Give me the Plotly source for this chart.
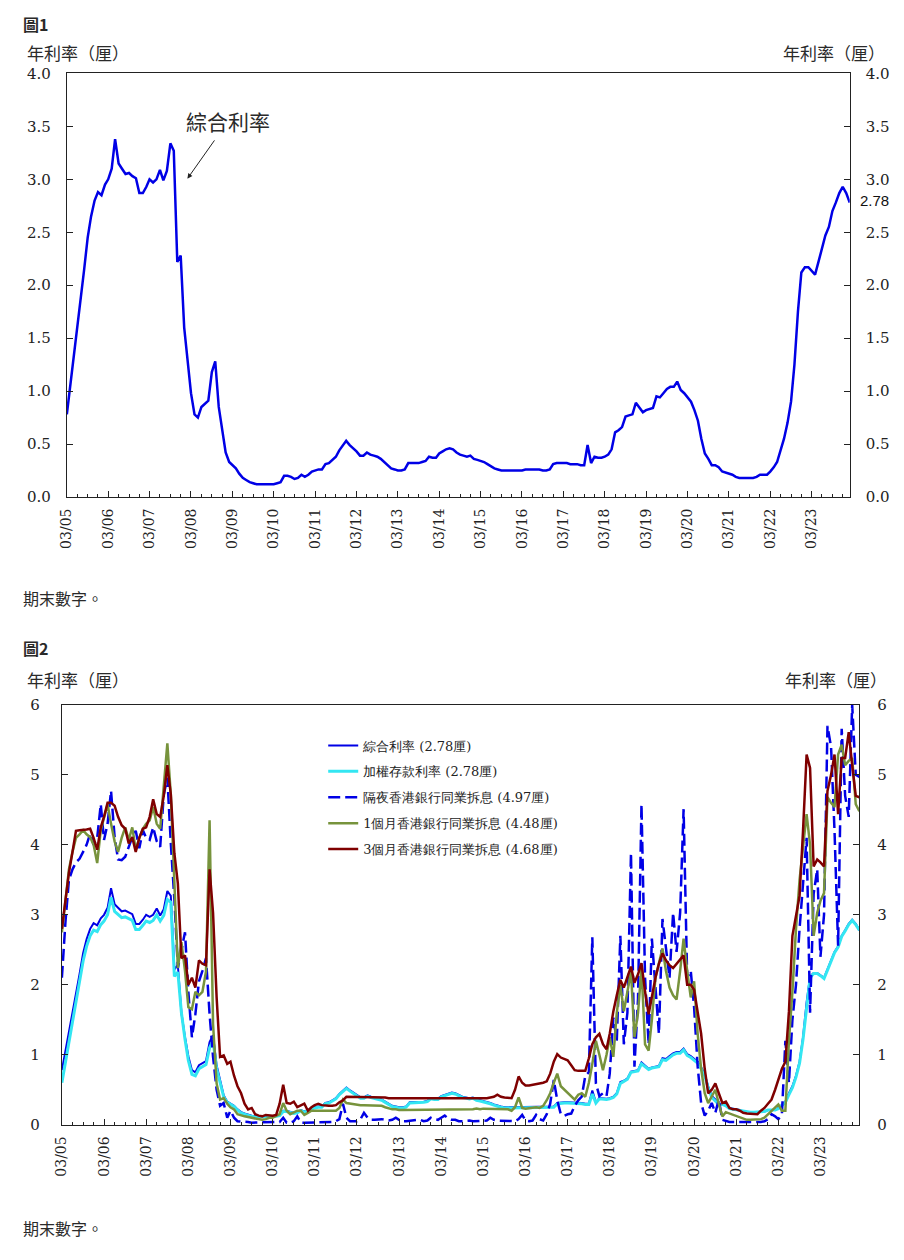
import plotly.graph_objects as go
import pandas as pd

# the page keeps the browser's 8px body margin, so the figure is 888x1244
PAGE_MARGIN = 8
W, H = 904 - 2 * PAGE_MARGIN, 1260 - 2 * PAGE_MARGIN

# monthly, Mar 2005 .. Feb 2024 (end of period)
months = pd.date_range("2005-03-01", periods=228, freq="MS")

composite = [
    0.78, 1.05, 1.32, 1.60, 1.88, 2.15, 2.45, 2.65, 2.80, 2.88, 2.85, 2.95,
    3.00, 3.10, 3.38, 3.15, 3.10, 3.05, 3.06, 3.03, 3.01, 2.87, 2.87, 2.93,
    3.00, 2.97, 3.00, 3.09, 2.99, 3.08, 3.34, 3.27, 2.22, 2.28, 1.60, 1.25,
    0.98, 0.78, 0.75, 0.85, 0.88, 0.91, 1.18, 1.28, 0.85, 0.65, 0.42, 0.33,
    0.30, 0.27, 0.22, 0.18, 0.16, 0.14, 0.13, 0.12, 0.12, 0.12, 0.12, 0.12,
    0.12, 0.13, 0.14, 0.20, 0.20, 0.19, 0.17, 0.18, 0.21, 0.19, 0.21, 0.24,
    0.25, 0.26, 0.26, 0.31, 0.32, 0.35, 0.38, 0.44, 0.49, 0.53, 0.49, 0.46,
    0.43, 0.39, 0.39, 0.42, 0.40, 0.39, 0.38, 0.36, 0.33, 0.30, 0.27, 0.26,
    0.25, 0.25, 0.26, 0.32, 0.32, 0.32, 0.32, 0.33, 0.34, 0.38, 0.37, 0.37,
    0.41, 0.43, 0.45, 0.46, 0.45, 0.42, 0.40, 0.39, 0.38, 0.39, 0.36, 0.35,
    0.34, 0.33, 0.31, 0.29, 0.27, 0.26, 0.25, 0.25, 0.25, 0.25, 0.25, 0.25,
    0.25, 0.26, 0.26, 0.26, 0.26, 0.26, 0.25, 0.25, 0.26, 0.31, 0.32, 0.32,
    0.32, 0.32, 0.31, 0.31, 0.31, 0.30, 0.30, 0.49, 0.32, 0.38, 0.37, 0.37,
    0.38, 0.40, 0.45, 0.61, 0.63, 0.66, 0.76, 0.77, 0.78, 0.89, 0.84, 0.80,
    0.82, 0.83, 0.84, 0.95, 0.94, 0.98, 1.02, 1.04, 1.04, 1.09, 1.01, 0.98,
    0.94, 0.90, 0.82, 0.72, 0.55, 0.41, 0.36, 0.30, 0.30, 0.28, 0.24, 0.23,
    0.22, 0.21, 0.19, 0.18, 0.18, 0.18, 0.18, 0.18, 0.19, 0.21, 0.21, 0.21,
    0.24, 0.28, 0.33, 0.45, 0.55, 0.70, 0.90, 1.25, 1.75, 2.12, 2.17, 2.17,
    2.14, 2.10, 2.22, 2.35, 2.47, 2.55, 2.70, 2.78, 2.87, 2.93, 2.87, 2.78,
]

deposit = [
    0.60, 0.90, 1.20, 1.48, 1.76, 2.04, 2.34, 2.55, 2.70, 2.78, 2.76, 2.86,
    2.91, 3.00, 3.25, 3.05, 3.00, 2.96, 2.97, 2.94, 2.92, 2.79, 2.79, 2.85,
    2.91, 2.89, 2.92, 3.00, 2.91, 2.99, 3.22, 3.18, 2.12, 2.18, 1.60, 1.22,
    0.92, 0.72, 0.70, 0.80, 0.83, 0.86, 1.10, 1.20, 0.80, 0.60, 0.40, 0.32,
    0.29, 0.26, 0.21, 0.17, 0.15, 0.13, 0.12, 0.11, 0.11, 0.11, 0.11, 0.11,
    0.11, 0.12, 0.13, 0.19, 0.19, 0.18, 0.16, 0.17, 0.20, 0.18, 0.20, 0.23,
    0.24, 0.25, 0.25, 0.30, 0.31, 0.34, 0.37, 0.43, 0.48, 0.52, 0.48, 0.45,
    0.42, 0.38, 0.38, 0.41, 0.39, 0.38, 0.37, 0.35, 0.32, 0.29, 0.26, 0.25,
    0.24, 0.24, 0.25, 0.31, 0.31, 0.31, 0.31, 0.32, 0.33, 0.37, 0.36, 0.36,
    0.40, 0.42, 0.44, 0.45, 0.44, 0.41, 0.39, 0.38, 0.37, 0.38, 0.35, 0.34,
    0.33, 0.32, 0.30, 0.28, 0.26, 0.25, 0.24, 0.24, 0.24, 0.24, 0.24, 0.24,
    0.24, 0.25, 0.25, 0.25, 0.25, 0.25, 0.24, 0.24, 0.25, 0.30, 0.31, 0.31,
    0.31, 0.31, 0.30, 0.30, 0.30, 0.29, 0.29, 0.44, 0.31, 0.37, 0.36, 0.36,
    0.37, 0.39, 0.44, 0.59, 0.62, 0.65, 0.75, 0.76, 0.77, 0.87, 0.83, 0.79,
    0.81, 0.82, 0.83, 0.93, 0.92, 0.96, 1.00, 1.02, 1.02, 1.07, 0.99, 0.96,
    0.92, 0.88, 0.80, 0.70, 0.53, 0.39, 0.34, 0.29, 0.29, 0.27, 0.23, 0.22,
    0.21, 0.20, 0.19, 0.18, 0.18, 0.18, 0.18, 0.18, 0.19, 0.21, 0.21, 0.21,
    0.23, 0.27, 0.32, 0.43, 0.53, 0.68, 0.88, 1.22, 1.72, 2.10, 2.16, 2.16,
    2.13, 2.09, 2.21, 2.34, 2.46, 2.54, 2.69, 2.77, 2.86, 2.92, 2.86, 2.78,
]

hibor_on = [
    2.10, 2.90, 3.50, 3.65, 3.75, 3.80, 3.90, 4.00, 4.16, 4.00, 4.10, 4.58,
    4.07, 4.30, 4.77, 4.11, 3.79, 3.78, 3.83, 3.97, 4.11, 4.20, 3.95, 4.21,
    4.10, 4.07, 4.25, 4.05, 3.97, 4.72, 4.96, 4.02, 3.22, 2.24, 2.50, 2.75,
    1.90, 1.25, 1.58, 2.05, 2.20, 2.38, 1.58, 0.97, 0.50, 0.27, 0.31, 0.10,
    0.20, 0.10, 0.05, 0.05, 0.04, 0.04, 0.03, 0.03, 0.03, 0.03, 0.03, 0.03,
    0.03, 0.03, 0.04, 0.10, 0.03, 0.03, 0.05, 0.12, 0.03, 0.03, 0.03, 0.03,
    0.03, 0.03, 0.03, 0.03, 0.03, 0.04, 0.05, 0.08, 0.30, 0.10, 0.05, 0.05,
    0.05, 0.08, 0.17, 0.10, 0.07, 0.07, 0.08, 0.08, 0.07, 0.06, 0.07, 0.10,
    0.07, 0.05, 0.05, 0.06, 0.07, 0.07, 0.07, 0.05, 0.06, 0.10, 0.08, 0.07,
    0.10, 0.13, 0.09, 0.07, 0.07, 0.05, 0.05, 0.06, 0.06, 0.05, 0.05, 0.05,
    0.06, 0.06, 0.10, 0.07, 0.06, 0.06, 0.05, 0.05, 0.06, 0.05, 0.08, 0.14,
    0.06, 0.05, 0.06, 0.14, 0.08, 0.06, 0.15, 0.30, 0.64, 0.35, 0.15, 0.13,
    0.15, 0.16, 0.27, 0.35, 0.40, 0.70, 0.75, 2.68, 0.59, 0.41, 0.45, 0.41,
    0.73, 1.53, 1.20, 2.70, 1.15, 1.60, 3.88, 0.83, 1.80, 4.58, 2.10, 1.15,
    2.66, 1.90, 1.30, 2.94, 2.56, 2.10, 3.03, 2.47, 3.03, 4.51, 2.10, 2.20,
    1.68, 0.83, 0.31, 0.13, 0.20, 0.31, 0.17, 0.36, 0.07, 0.05, 0.04, 0.04,
    0.04, 0.04, 0.03, 0.04, 0.04, 0.04, 0.03, 0.04, 0.05, 0.08, 0.15, 0.12,
    0.08, 0.15, 1.20, 0.60, 1.50, 2.00, 2.80, 3.50, 4.10, 1.60, 3.30, 3.65,
    2.40, 3.00, 5.70, 5.40, 4.20, 2.56, 5.66, 4.70, 4.40, 6.00, 5.00, 4.97,
]

hibor_1m = [
    2.75, 3.20, 3.65, 3.90, 4.10, 4.15, 4.21, 4.15, 4.11, 4.00, 3.74, 4.21,
    4.40, 4.58, 4.30, 4.05, 3.90, 4.10, 4.25, 4.07, 4.25, 3.93, 4.10, 4.23,
    4.30, 4.35, 4.54, 4.30, 4.23, 4.80, 5.45, 4.72, 3.41, 2.24, 2.61, 2.20,
    1.68, 1.65, 1.90, 1.85, 1.90, 2.19, 4.35, 1.44, 0.59, 0.36, 0.38, 0.30,
    0.25, 0.22, 0.15, 0.13, 0.12, 0.11, 0.10, 0.08, 0.07, 0.07, 0.08, 0.10,
    0.10, 0.12, 0.15, 0.31, 0.20, 0.15, 0.18, 0.20, 0.20, 0.14, 0.17, 0.20,
    0.20, 0.20, 0.20, 0.21, 0.20, 0.20, 0.20, 0.24, 0.36, 0.31, 0.30, 0.29,
    0.29, 0.28, 0.28, 0.28, 0.27, 0.27, 0.27, 0.27, 0.25, 0.23, 0.22, 0.22,
    0.21, 0.21, 0.21, 0.21, 0.21, 0.21, 0.21, 0.21, 0.21, 0.21, 0.21, 0.21,
    0.21, 0.21, 0.22, 0.21, 0.21, 0.21, 0.21, 0.22, 0.22, 0.22, 0.23, 0.22,
    0.23, 0.23, 0.23, 0.23, 0.23, 0.23, 0.23, 0.22, 0.20, 0.25, 0.39, 0.24,
    0.23, 0.24, 0.24, 0.25, 0.24, 0.27, 0.35, 0.45, 0.60, 0.73, 0.55, 0.50,
    0.45, 0.40, 0.36, 0.43, 0.45, 0.40, 0.60, 0.87, 1.20, 1.00, 0.78, 1.00,
    1.25, 0.97, 1.60, 2.00, 1.62, 1.90, 2.19, 1.25, 1.60, 2.24, 1.15, 1.06,
    1.50, 2.10, 2.30, 2.52, 2.20, 1.96, 1.85, 1.79, 2.20, 2.66, 2.20, 1.82,
    2.05, 1.30, 0.80, 0.45, 0.31, 0.40, 0.50, 0.30, 0.12, 0.18, 0.16, 0.14,
    0.12, 0.10, 0.08, 0.07, 0.07, 0.07, 0.07, 0.08, 0.10, 0.15, 0.19, 0.24,
    0.29, 0.20, 0.20, 1.20, 1.90, 2.80, 3.50, 3.97, 4.44, 4.00, 2.70, 3.03,
    3.20, 3.31, 4.68, 4.60, 4.54, 5.29, 5.43, 5.14, 5.20, 5.24, 4.58, 4.48,
]

hibor_3m = [
    2.80, 3.20, 3.60, 3.90, 4.20, 4.21, 4.21, 4.22, 4.23, 4.10, 3.93, 4.25,
    4.40, 4.60, 4.60, 4.56, 4.40, 4.28, 4.23, 4.02, 4.11, 3.90, 4.10, 4.23,
    4.25, 4.40, 4.65, 4.44, 4.40, 4.70, 5.14, 4.72, 3.88, 3.45, 2.38, 2.42,
    2.00, 2.10, 1.96, 2.35, 2.30, 2.28, 3.65, 3.03, 1.82, 0.97, 0.99, 0.87,
    0.90, 0.70, 0.55, 0.45, 0.30, 0.22, 0.24, 0.15, 0.13, 0.12, 0.14, 0.13,
    0.13, 0.14, 0.30, 0.57, 0.31, 0.30, 0.33, 0.25, 0.28, 0.30, 0.20, 0.25,
    0.28, 0.30, 0.28, 0.27, 0.27, 0.27, 0.28, 0.32, 0.35, 0.40, 0.40, 0.40,
    0.40, 0.40, 0.40, 0.40, 0.40, 0.40, 0.40, 0.39, 0.39, 0.38, 0.38, 0.38,
    0.38, 0.38, 0.38, 0.38, 0.38, 0.38, 0.38, 0.38, 0.38, 0.37, 0.37, 0.37,
    0.37, 0.38, 0.38, 0.37, 0.37, 0.37, 0.38, 0.38, 0.38, 0.38, 0.38, 0.38,
    0.38, 0.38, 0.39, 0.40, 0.43, 0.40, 0.39, 0.38, 0.38, 0.50, 0.69, 0.60,
    0.56, 0.56, 0.57, 0.57, 0.58, 0.60, 0.62, 0.73, 0.90, 1.01, 0.96, 0.94,
    0.92, 0.85, 0.78, 0.77, 0.77, 0.77, 0.95, 1.15, 1.25, 1.30, 1.15, 1.08,
    1.30, 1.62, 1.85, 2.07, 1.96, 2.10, 2.26, 2.03, 2.15, 2.31, 1.90, 1.58,
    1.85, 2.10, 2.30, 2.45, 2.35, 2.28, 2.24, 2.30, 2.35, 2.42, 2.00, 2.00,
    1.93, 1.60, 1.30, 0.80, 0.45, 0.50, 0.59, 0.45, 0.31, 0.33, 0.24, 0.22,
    0.22, 0.20, 0.17, 0.16, 0.16, 0.15, 0.15, 0.20, 0.24, 0.30, 0.36, 0.50,
    0.64, 0.80, 0.90, 1.62, 2.70, 3.00, 3.27, 4.20, 5.29, 5.10, 3.69, 3.79,
    3.75, 3.69, 4.77, 5.00, 5.29, 4.44, 5.24, 5.24, 5.61, 5.14, 4.70, 4.68,
]

series_names = ["綜合利率", "加權存款利率", "隔夜香港銀行同業拆息",
                "1個月香港銀行同業拆息", "3個月香港銀行同業拆息"]

SERIF = "DejaVu Serif"
CJK = "Noto Sans CJK TC"
TEXT = "#2a2a2a"


# page pixel -> paper fraction
def px(x):
    return (x - PAGE_MARGIN) / W


def py(y):
    return 1 - (y - PAGE_MARGIN) / H


fig = go.Figure()

# --- chart 1
fig.add_trace(go.Scatter(x=months, y=composite, mode="lines", showlegend=False,
                         line=dict(color="#0000E6", width=2.5),
                         xaxis="x", yaxis="y"))
# keeps the right-hand axis drawn
fig.add_trace(go.Scatter(x=months, y=composite, mode="lines", showlegend=False,
                         opacity=0, hoverinfo="skip", line=dict(width=0),
                         xaxis="x", yaxis="y2"))

# --- chart 2
styles = [
    dict(color="#0000E6", width=2),
    dict(color="#33E6F2", width=3),
    dict(color="#0000E6", width=2.5, dash="12px,5px"),
    dict(color="#77933C", width=2.5),
    dict(color="#7F0000", width=2.5),
]
all_series = [composite, deposit, hibor_on, hibor_1m, hibor_3m]
for i, (name, vals, st) in enumerate(zip(series_names, all_series, styles)):
    fig.add_trace(go.Scatter(x=months, y=vals, mode="lines",
                             name=f"{name} ({vals[-1]:.2f}厘)",
                             legendgroup=str(i), line=st,
                             xaxis="x2", yaxis="y3"))
fig.add_trace(go.Scatter(x=months, y=composite, mode="lines", showlegend=False,
                         opacity=0, hoverinfo="skip", line=dict(width=0),
                         xaxis="x2", yaxis="y4"))

x_common = dict(
    type="date", range=[months[0], months[-1]],
    tick0="2005-03-01", dtick="M12", tickformat="%m/%y", tickangle=-90,
    ticks="inside", ticklen=6, tickcolor="#222", tickwidth=1,
    ticklabelstandoff=5,
    minor=dict(dtick="M3", tick0="2005-03-01", ticks="inside", ticklen=3,
               tickcolor="#222"),
    showline=True, linecolor="#222", linewidth=1, mirror=True,
    showgrid=False, zeroline=False,
    tickfont=dict(family=SERIF, size=14, color="#222"),
)
y_common = dict(
    ticks="inside", ticklen=6, tickcolor="#222", showline=True,
    linecolor="#222", linewidth=1, showgrid=False, zeroline=False,
    tickfont=dict(family=SERIF, size=15, color="#222"),
)

fig.update_layout(
    width=W, height=H, margin=dict(l=0, r=0, t=0, b=0),
    paper_bgcolor="white", plot_bgcolor="white",
    font=dict(family=SERIF, color="#222"),
    xaxis=dict(x_common, domain=[px(59.3), px(849.3)], anchor="y"),
    yaxis=dict(y_common, domain=[py(495), py(65.3)], range=[0, 4], dtick=0.5,
               tickformat=".1f", anchor="x", ticklabelstandoff=12),
    yaxis2=dict(y_common, range=[0, 4], dtick=0.5, tickformat=".1f",
                overlaying="y", side="right", anchor="x",
                ticklabelstandoff=12),
    xaxis2=dict(x_common, domain=[px(54.3), px(859)], anchor="y3"),
    yaxis3=dict(y_common, domain=[py(1132), py(706)], range=[0, 6], dtick=1,
                anchor="x2", ticklabelstandoff=18),
    yaxis4=dict(y_common, range=[0, 6], dtick=1, overlaying="y3",
                side="right", anchor="x2", ticklabelstandoff=14),
    legend=dict(x=px(318), y=py(732), xanchor="left", yanchor="top",
                bgcolor="rgba(0,0,0,0)", traceorder="grouped",
                tracegroupgap=6,
                font=dict(family=SERIF, size=13, color="#222")),
)

annotations = [
    dict(text="<b>圖1</b>", x=px(13), y=py(15), size=16, anchor="left"),
    dict(text="年利率（厘）", x=px(17), y=py(44), size=17, anchor="left"),
    dict(text="年利率（厘）", x=px(887), y=py(44), size=17, anchor="right"),
    dict(text="期末數字。", x=px(13), y=py(598), size=16, anchor="left"),
    dict(text="<b>圖2</b>", x=px(13), y=py(648), size=16, anchor="left"),
    dict(text="年利率（厘）", x=px(17), y=py(680), size=17, anchor="left"),
    dict(text="年利率（厘）", x=px(889), y=py(680), size=17, anchor="right"),
    dict(text="期末數字。", x=px(13), y=py(1237), size=16, anchor="left"),
]
for a in annotations:
    fig.add_annotation(text=a["text"], x=a["x"], y=a["y"], xref="paper",
                       yref="paper", xanchor=a["anchor"], yanchor="middle",
                       showarrow=False,
                       font=dict(family=CJK, size=a["size"], color=TEXT))

# series label with arrow
fig.add_annotation(text="綜合利率", x=px(181), y=py(172), xref="paper",
                   yref="paper", ax=41, ay=-58, showarrow=True, arrowhead=2,
                   arrowsize=1, arrowwidth=1, arrowcolor="#222",
                   startstandoff=4,
                   font=dict(family=CJK, size=21, color=TEXT))

# latest value on the right axis
fig.add_annotation(text=f"{composite[-1]:.2f}", x=px(858), y=composite[-1],
                   xref="paper", yref="y", xanchor="left", yanchor="middle",
                   yshift=2, showarrow=False,
                   font=dict(family="Liberation Sans", size=15, color="#111"))

fig.write_html("out.html", config={"displayModeBar": False})
